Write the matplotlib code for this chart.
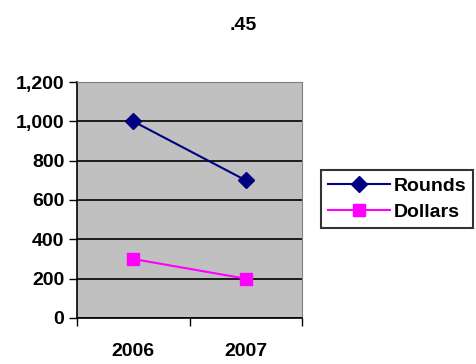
import matplotlib
matplotlib.use('Agg')
import matplotlib.pyplot as plt

years = ['2006', '2007']
rounds = [1000, 700]
dollars = [300, 200]
y_ticks = [0, 200, 400, 600, 800, 1000, 1200]

plt.rcParams['font.family'] = ['Liberation Sans', 'DejaVu Sans']
plt.rcParams['font.weight'] = 'bold'
fs = 14

fig = plt.figure(figsize=(4.77, 3.64), dpi=100)
ax = fig.add_axes([77/477, 46/364, 225/477, 236/364])
ax.set_facecolor('#c0c0c0')

x = [i + 0.5 for i in range(len(years))]
ax.plot(x, rounds, color='#000080', marker='D', markersize=8, linewidth=1.5, label='Rounds')
ax.plot(x, dollars, color='#ff00ff', marker='s', markersize=9, linewidth=1.5, label='Dollars')

ax.set_xlim(0, len(years))
ax.set_ylim(0, 1200)
ax.set_yticks(y_ticks)
ax.set_yticklabels([f'{v:,}' for v in y_ticks], fontsize=fs, fontweight='bold')
ax.set_xticks(range(len(years) + 1))
ax.set_xticklabels([])
ax.set_xticks(x, minor=True)
ax.set_xticklabels(years, minor=True, fontsize=fs, fontweight='bold')
ax.tick_params(axis='x', which='minor', length=0, pad=18)
ax.tick_params(axis='x', which='major', length=6, width=1, direction='out')
ax.tick_params(axis='y', length=6, width=1, direction='out', pad=3)

ax.grid(True, axis='y', color='black', linewidth=1.2)
ax.set_axisbelow(True)
for s in ['top', 'right']:
    ax.spines[s].set_color('#808080')
ax.spines['left'].set_linewidth(1.2)
ax.spines['bottom'].set_linewidth(1.2)

fig.text(243/477, 1 - 25/364, '.45', ha='center', va='center', fontsize=fs, fontweight='bold')

leg = fig.legend(loc='center left', bbox_to_anchor=(321/477, 1 - 199/364),
                 fontsize=fs, frameon=True, fancybox=False, borderaxespad=0,
                 handlelength=3.2, borderpad=0.35, labelspacing=0.45, handletextpad=0.2)
leg.get_frame().set_edgecolor('black')
leg.get_frame().set_linewidth(1.5)
for t in leg.get_texts():
    t.set_fontweight('bold')

fig.savefig('out.png', dpi=100, facecolor='white')
